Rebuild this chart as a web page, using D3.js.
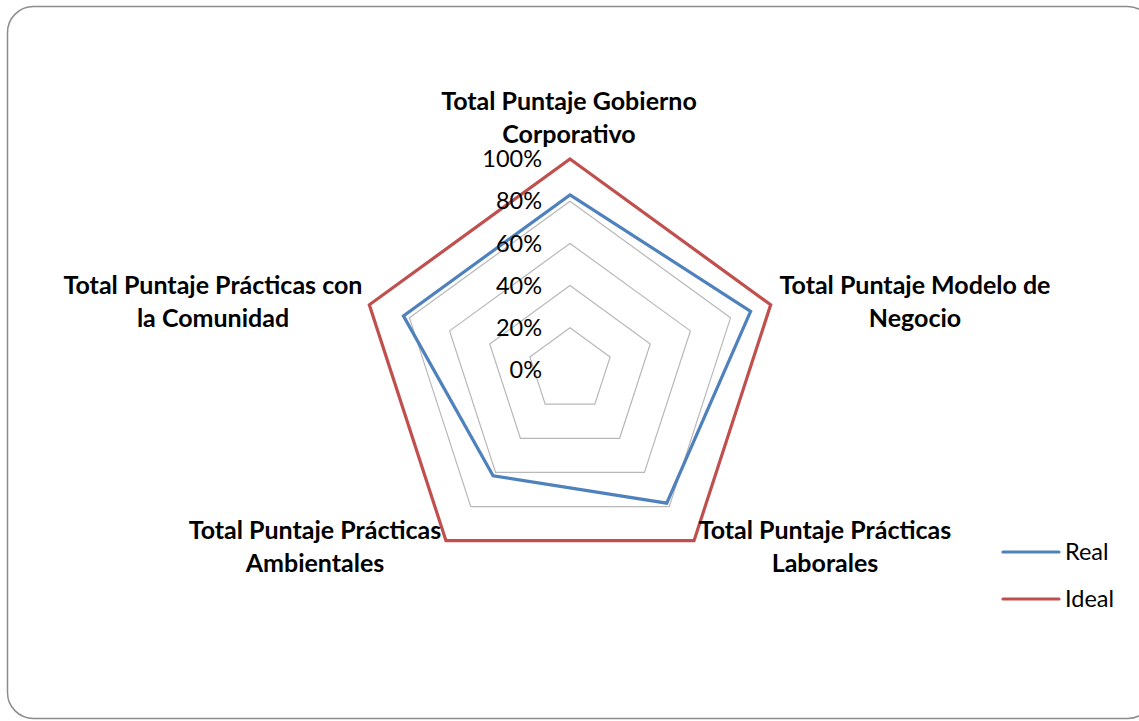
<!DOCTYPE html>
<html>
<head>
<meta charset="utf-8">
<script src="https://cdn.jsdelivr.net/npm/d3@7"></script>
<style>
  body { margin: 0; background: #fff; }
  svg text { font-family: Lato, "Open Sans", sans-serif; fill: #000; }
</style>
</head>
<body>
<div id="container"></div>
<script>
const categories = [
  ["Total Puntaje Gobierno", "Corporativo"],
  ["Total Puntaje Modelo de", "Negocio"],
  ["Total Puntaje Prácticas", "Laborales"],
  ["Total Puntaje Prácticas", "Ambientales"],
  ["Total Puntaje Prácticas con", "la Comunidad"]
];
const realValues = [0.83, 0.90, 0.78, 0.62, 0.83];
const idealValues = [1, 1, 1, 1, 1];
const tickValues = [0, 0.2, 0.4, 0.6, 0.8, 1];
const seriesNames = ["Real", "Ideal"];
const seriesColors = ["#4F81BD", "#C0504D"];

const width = 1139, height = 721;
const cx = 570, cy = 370, radius = 211;

const svg = d3.select("#container").append("svg")
  .attr("width", width)
  .attr("height", height);

// chart border
svg.append("rect")
  .attr("x", 7.5).attr("y", 6.5)
  .attr("width", 1146).attr("height", 712)
  .attr("rx", 26)
  .attr("fill", "#fff")
  .attr("stroke", "#8c8c8c")
  .attr("stroke-width", 1.5);

const r = d3.scaleLinear().domain([0, 1]).range([0, radius]);
const angle = d3.scaleLinear().domain([0, categories.length]).range([0, 2 * Math.PI]);

const g = svg.append("g").attr("transform", `translate(${cx},${cy})`);

const radar = d3.lineRadial()
  .angle((d, i) => angle(i))
  .radius(d => r(d))
  .curve(d3.curveLinearClosed);

// gridlines
g.selectAll(".grid")
  .data(tickValues.filter(t => t > 0))
  .enter().append("path")
  .attr("class", "grid")
  .attr("d", t => radar(categories.map(() => t)))
  .attr("fill", "none")
  .attr("stroke", "#b8b8b8")
  .attr("stroke-width", 1.2);

// series
const series = [realValues, idealValues];
g.selectAll(".series")
  .data(series)
  .enter().append("path")
  .attr("class", "series")
  .attr("d", d => radar(d))
  .attr("fill", "none")
  .attr("stroke", (d, i) => seriesColors[i])
  .attr("stroke-width", 3.2)
  .attr("stroke-linejoin", "miter");

// tick labels
g.selectAll(".tick-label")
  .data(tickValues)
  .enter().append("text")
  .attr("class", "tick-label")
  .attr("x", -28)
  .attr("y", t => -r(t))
  .attr("dy", "0.35em")
  .attr("text-anchor", "end")
  .style("font-size", "23.5px")
  .text(t => d3.format(".0%")(t));

// category labels
const labelPos = [
  {x: 569, y: 110},
  {x: 915, y: 294},
  {x: 825, y: 539},
  {x: 315, y: 539},
  {x: 213, y: 294}
];
categories.forEach((lines, i) => {
  const t = svg.append("text")
    .attr("text-anchor", "middle")
    .style("font-size", "25px")
    .style("font-weight", "bold");
  lines.forEach((line, j) => {
    t.append("tspan")
      .attr("x", labelPos[i].x)
      .attr("y", labelPos[i].y + j * 32.5)
      .text(line);
  });
});

// legend
const legend = svg.append("g").attr("transform", "translate(1003,552)");
seriesNames.forEach((name, i) => {
  const row = legend.append("g").attr("transform", `translate(0,${i * 47})`);
  row.append("line")
    .attr("x1", 0).attr("x2", 56)
    .attr("stroke", seriesColors[i])
    .attr("stroke-width", 3.2)
    .attr("stroke-linecap", "round");
  row.append("text")
    .attr("x", 62)
    .attr("dy", "0.35em")
    .style("font-size", "23.5px")
    .text(name);
});
</script>
</body>
</html>
